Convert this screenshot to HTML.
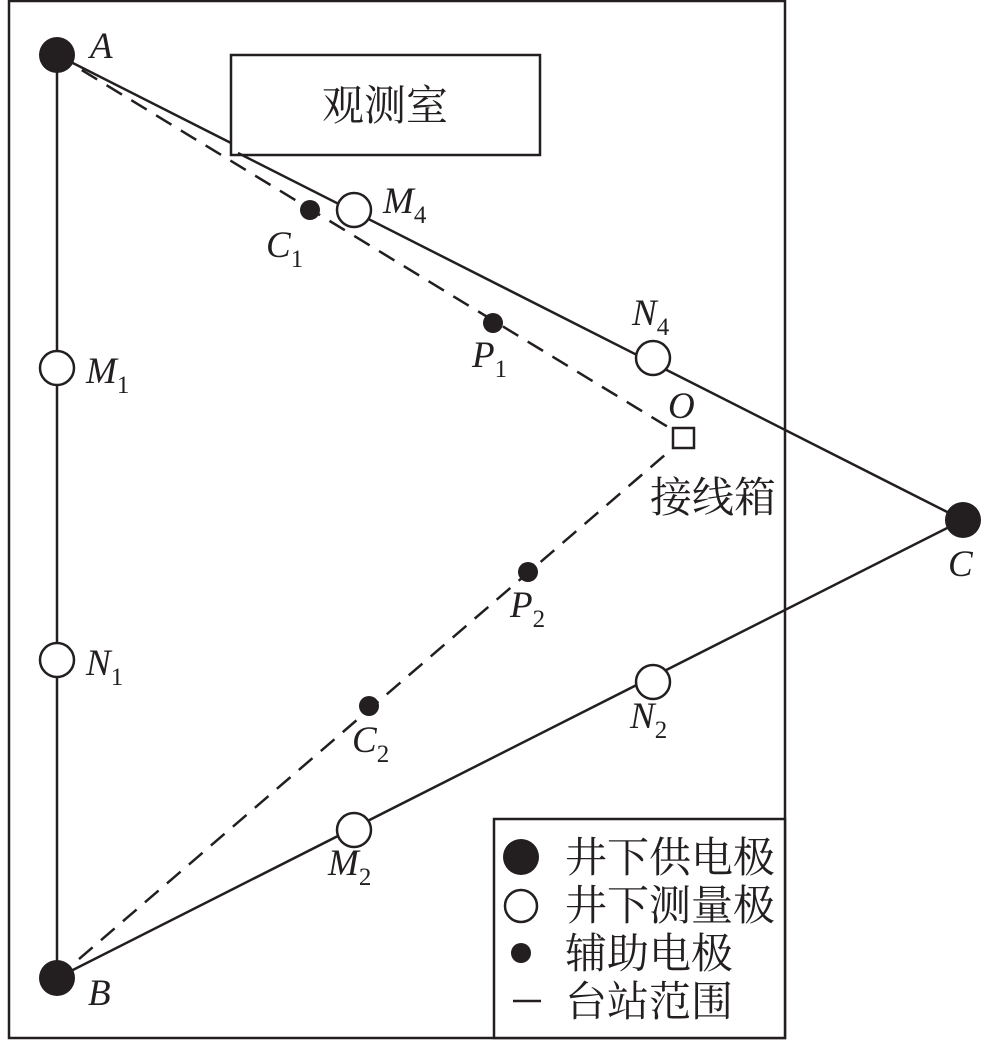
<!DOCTYPE html>
<html><head><meta charset="utf-8"><style>
html,body{margin:0;padding:0;background:#fff;}
svg{display:block}
.it{font-family:"Liberation Serif",serif;font-style:italic;font-size:37px;fill:#231f20}
.sub{font-family:"Liberation Serif",serif;font-size:25px;fill:#231f20;font-style:normal}
.cj{font-family:"Liberation Serif","Noto Serif CJK SC",serif;font-size:42px;fill:#231f20}
</style></head><body>
<svg width="984" height="1041" viewBox="0 0 984 1041" xmlns="http://www.w3.org/2000/svg">
<rect x="9" y="1" width="776" height="1037" fill="none" stroke="#231f20" stroke-width="2.5"/>
<rect x="231" y="55" width="309" height="100" fill="#fff" stroke="#231f20" stroke-width="2.5"/>
<text class="cj" x="385" y="120" text-anchor="middle">观测室</text>
<line x1="57" y1="55" x2="57" y2="978" stroke="#231f20" stroke-width="2.5"/>
<line x1="57" y1="55" x2="231" y2="143" stroke="#231f20" stroke-width="2.5"/>
<line x1="238" y1="153" x2="963" y2="520" stroke="#231f20" stroke-width="2.5"/>
<line x1="57" y1="978" x2="963" y2="520" stroke="#231f20" stroke-width="2.5"/>
<line x1="57" y1="55" x2="673" y2="430" stroke="#231f20" stroke-width="2.5" stroke-dasharray="18,11"/>
<line x1="57" y1="978" x2="673" y2="448" stroke="#231f20" stroke-width="2.5" stroke-dasharray="18,11"/>
<rect x="673" y="428" width="21" height="20" fill="#fff" stroke="#231f20" stroke-width="2.5"/>
<g fill="#231f20">
<circle cx="57" cy="55" r="18"/><circle cx="57" cy="978" r="18"/><circle cx="963" cy="520" r="18"/>
<circle cx="310" cy="210" r="10"/><circle cx="493" cy="323" r="10"/><circle cx="528" cy="572" r="10"/><circle cx="369" cy="706" r="10"/>
</g>
<g fill="#fff" stroke="#231f20" stroke-width="2.5">
<circle cx="57" cy="368" r="17"/><circle cx="57" cy="660" r="17"/>
<circle cx="354" cy="210" r="17"/><circle cx="653" cy="358" r="17"/>
<circle cx="653" cy="682" r="17"/><circle cx="354" cy="830" r="17"/>
</g>
<text class="it" x="90" y="58">A</text>
<text class="it" x="88" y="1005">B</text>
<text class="it" x="948" y="576">C</text>
<text class="it" x="668" y="418">O</text>
<text class="it" x="86" y="383">M<tspan class="sub" dy="10">1</tspan></text>
<text class="it" x="86" y="675">N<tspan class="sub" dy="10">1</tspan></text>
<text class="it" x="383" y="213">M<tspan class="sub" dy="10">4</tspan></text>
<text class="it" x="632" y="325">N<tspan class="sub" dy="10">4</tspan></text>
<text class="it" x="630" y="728">N<tspan class="sub" dy="10">2</tspan></text>
<text class="it" x="328" y="875">M<tspan class="sub" dy="10">2</tspan></text>
<text class="it" x="266" y="257">C<tspan class="sub" dy="10">1</tspan></text>
<text class="it" x="472" y="367">P<tspan class="sub" dy="10">1</tspan></text>
<text class="it" x="510" y="617">P<tspan class="sub" dy="10">2</tspan></text>
<text class="it" x="352" y="752">C<tspan class="sub" dy="10">2</tspan></text>
<text class="cj" x="650" y="512">接线箱</text>
<rect x="494" y="819" width="291" height="219" fill="#fff" stroke="#231f20" stroke-width="2.5"/>
<circle cx="521" cy="857" r="18" fill="#231f20"/>
<circle cx="521" cy="906" r="16" fill="#fff" stroke="#231f20" stroke-width="2.5"/>
<circle cx="521" cy="953" r="10" fill="#231f20"/>
<line x1="513" y1="1001" x2="541" y2="1001" stroke="#231f20" stroke-width="2.5"/>
<text class="cj" x="565" y="872">井下供电极</text>
<text class="cj" x="565" y="920">井下测量极</text>
<text class="cj" x="565" y="968">辅助电极</text>
<text class="cj" x="565" y="1016">台站范围</text>
</svg>
</body></html>
